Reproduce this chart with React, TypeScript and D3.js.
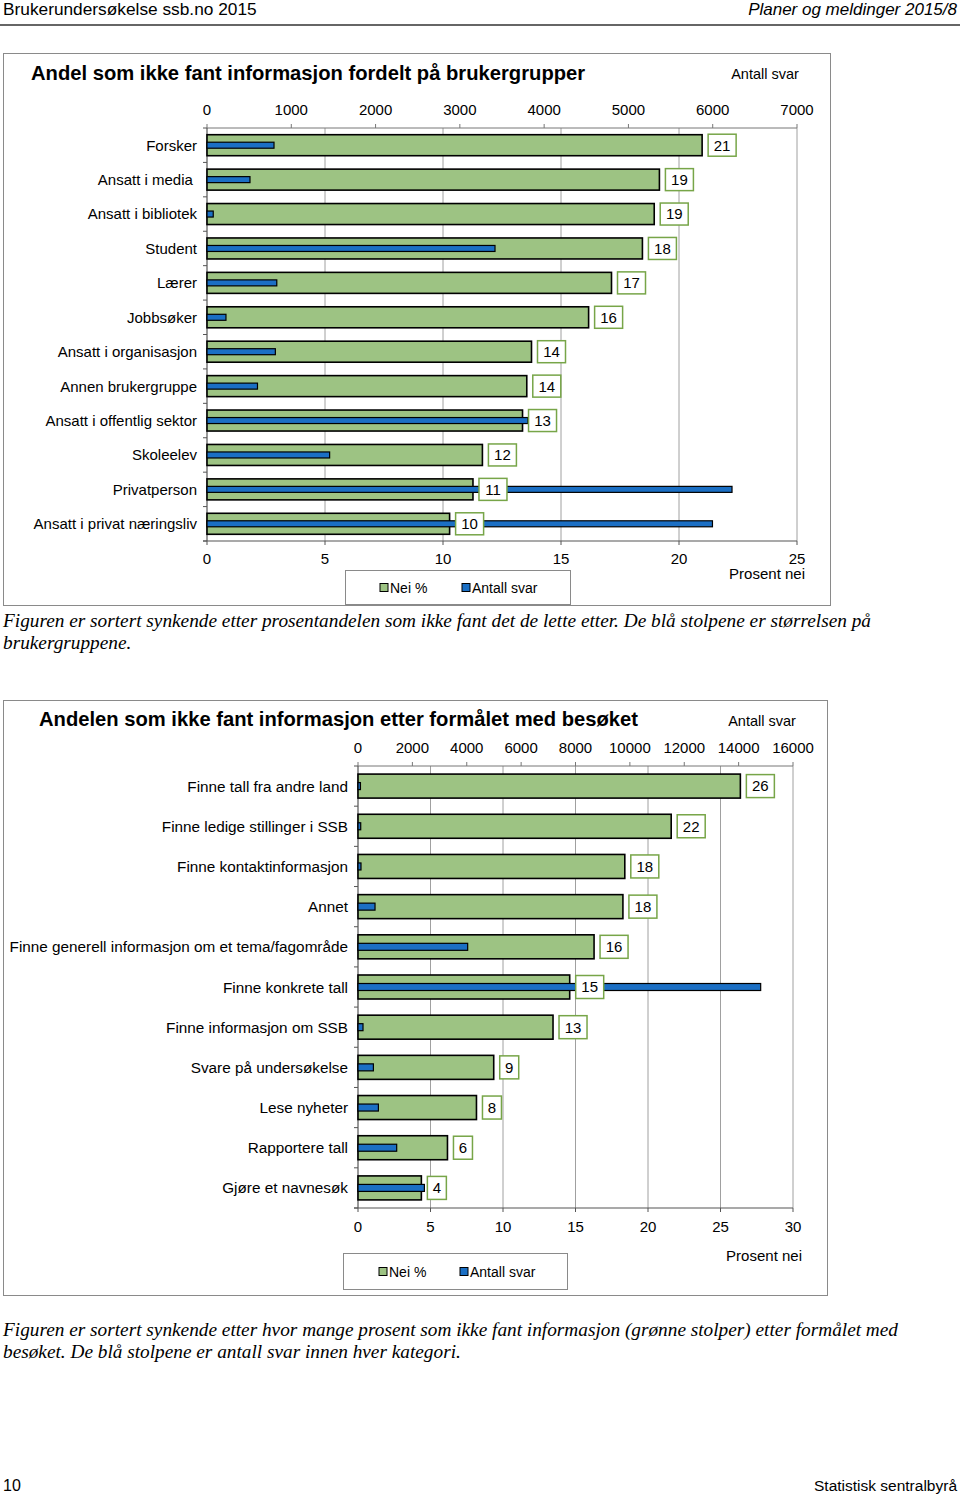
import React from "react";
import * as d3 from "d3";

// ---------- DATA ----------
const groups1 = [
  "Forsker",
  "Ansatt i media\u00A0",
  "Ansatt i bibliotek",
  "Student",
  "Lærer",
  "Jobbsøker",
  "Ansatt i organisasjon",
  "Annen brukergruppe",
  "Ansatt i offentlig sektor",
  "Skoleelev",
  "Privatperson",
  "Ansatt i privat næringsliv",
];
const neiPct1 = [20.98, 19.17, 18.95, 18.45, 17.14, 16.17, 13.75, 13.55, 13.37, 11.67, 11.27, 10.28];
const antall1 = [795, 510, 74, 3417, 828, 225, 811, 599, 3807, 1455, 6229, 5997];
const pctTicks1 = [0, 5, 10, 15, 20, 25];
const countTicks1 = [0, 1000, 2000, 3000, 4000, 5000, 6000, 7000];

const groups2 = [
  "Finne tall fra andre land",
  "Finne ledige stillinger i SSB",
  "Finne kontaktinformasjon",
  "Annet",
  "Finne generell informasjon om et tema/fagområde",
  "Finne konkrete tall",
  "Finne informasjon om SSB",
  "Svare på undersøkelse",
  "Lese nyheter",
  "Rapportere tall",
  "Gjøre et navnesøk",
];
const neiPct2 = [26.37, 21.6, 18.4, 18.27, 16.28, 14.6, 13.45, 9.36, 8.17, 6.17, 4.37];
const antall2 = [90, 100, 110, 626, 4034, 14811, 184, 566, 750, 1423, 2442];
const pctTicks2 = [0, 5, 10, 15, 20, 25, 30];
const countTicks2 = [0, 2000, 4000, 6000, 8000, 10000, 12000, 14000, 16000];

const title1 = "Andel som ikke fant informasjon fordelt på brukergrupper";
const title2 = "Andelen som ikke fant informasjon etter formålet med besøket";
const caption1 = [
  "Figuren er sortert synkende etter prosentandelen som ikke fant det de lette etter. De blå stolpene er størrelsen på",
  "brukergruppene.",
];
const caption2 = [
  "Figuren er sortert synkende etter hvor mange prosent som ikke fant informasjon (grønne stolper) etter formålet med",
  "besøket. De blå stolpene er antall svar innen hver kategori.",
];

// ---------- STYLE ----------
const GREEN = "#9dc383";
const BLUE = "#1b6fc4";
const LABEL_BORDER = "#77a548";
const GRID = "#a0a0a0";
const FRAME = "#8a8a8a";
const SANS = "'Liberation Sans', Arial, Helvetica, sans-serif";
const SERIF = "'Liberation Serif', 'Times New Roman', serif";

type ChartProps = {
  cats: string[];
  pct: number[];
  counts: number[];
  pctTicks: number[];
  countTicks: number[];
  title: string;
  titleFont: number;
  frame: { x: number; y: number; w: number; h: number };
  plot: { l: number; r: number; t: number; b: number };
  titlePos: { x: number; y: number };
  antallPos: { x: number; y: number };
  topTickY: number;
  bottomTickY: number;
  prosentPos: { x: number; y: number };
  legend: { x: number; y: number; w: number; h: number; g: number; b: number };
  catFont: number;
  catX: number;
  barH: number;
  blueH: number;
  boxH: number;
};

function Chart(p: ChartProps) {
  const xPct = d3
    .scaleLinear()
    .domain([p.pctTicks[0], p.pctTicks[p.pctTicks.length - 1]])
    .range([p.plot.l, p.plot.r]);
  const xCnt = d3
    .scaleLinear()
    .domain([p.countTicks[0], p.countTicks[p.countTicks.length - 1]])
    .range([p.plot.l, p.plot.r]);
  const y = d3.scaleBand<string>().domain(p.cats).range([p.plot.t, p.plot.b]).padding(0);
  const bw = y.bandwidth();
  const boundaries = d3.range(p.cats.length + 1).map((i) => p.plot.t + i * bw);

  return (
    <g>
      <rect x={p.frame.x} y={p.frame.y} width={p.frame.w} height={p.frame.h} fill="#fff" stroke={FRAME} strokeWidth={1} />
      <text x={p.titlePos.x} y={p.titlePos.y} fontFamily={SANS} fontSize={p.titleFont} fontWeight="bold" fill="#000">
        {p.title}
      </text>
      <text x={p.antallPos.x} y={p.antallPos.y} fontFamily={SANS} fontSize={14.5} textAnchor="middle" fill="#000">
        Antall svar
      </text>
      {/* gridlines */}
      {p.pctTicks.slice(1).map((t) => (
        <line key={"g" + t} x1={xPct(t)} x2={xPct(t)} y1={p.plot.t} y2={p.plot.b} stroke={GRID} strokeWidth={1} />
      ))}
      {/* top axis */}
      <line x1={p.plot.l} x2={p.plot.r} y1={p.plot.t} y2={p.plot.t} stroke="#777" strokeWidth={1} />
      {p.countTicks.map((t) => (
        <g key={"ct" + t}>
          <line x1={xCnt(t)} x2={xCnt(t)} y1={p.plot.t - 4} y2={p.plot.t} stroke="#777" />
          <text x={xCnt(t)} y={p.topTickY} fontFamily={SANS} fontSize={15} textAnchor="middle" fill="#000">
            {t}
          </text>
        </g>
      ))}
      {/* bottom axis */}
      <line x1={p.plot.l - 4} x2={p.plot.r} y1={p.plot.b} y2={p.plot.b} stroke="#555" strokeWidth={1.2} />
      {p.pctTicks.map((t) => (
        <g key={"pt" + t}>
          <line x1={xPct(t)} x2={xPct(t)} y1={p.plot.b} y2={p.plot.b + 4} stroke="#555" />
          <text x={xPct(t)} y={p.bottomTickY} fontFamily={SANS} fontSize={15} textAnchor="middle" fill="#000">
            {t}
          </text>
        </g>
      ))}
      <text x={p.prosentPos.x} y={p.prosentPos.y} fontFamily={SANS} fontSize={15} textAnchor="end" fill="#000">
        Prosent nei
      </text>
      {/* left axis */}
      <line x1={p.plot.l} x2={p.plot.l} y1={p.plot.t} y2={p.plot.b} stroke="#555" strokeWidth={1.2} />
      {boundaries.map((b, i) => (
        <line key={"lt" + i} x1={p.plot.l - 4} x2={p.plot.l} y1={b} y2={b} stroke="#555" />
      ))}
      {/* category labels */}
      {p.cats.map((c) => (
        <text
          key={"c" + c}
          x={p.catX}
          y={(y(c) as number) + bw / 2}
          dy="0.36em"
          fontFamily={SANS}
          fontSize={p.catFont}
          textAnchor="end"
          fill="#000"
        >
          {c}
        </text>
      ))}
      {/* green bars */}
      {p.cats.map((c, i) => (
        <rect
          key={"gb" + i}
          x={xPct(0)}
          y={(y(c) as number) + (bw - p.barH) / 2}
          width={xPct(p.pct[i]) - xPct(0)}
          height={p.barH}
          fill={GREEN}
          stroke="#000"
          strokeWidth={1.6}
        />
      ))}
      {/* blue bars */}
      {p.cats.map((c, i) => (
        <rect
          key={"bb" + i}
          x={xCnt(0)}
          y={(y(c) as number) + (bw - p.blueH) / 2}
          width={Math.max(xCnt(p.counts[i]) - xCnt(0), 1.5)}
          height={p.blueH}
          fill={BLUE}
          stroke="#000"
          strokeWidth={1.2}
        />
      ))}
      {/* value label boxes */}
      {p.cats.map((c, i) => {
        const txt = String(Math.round(p.pct[i]));
        const w = 10 + 9 * txt.length;
        const bx = xPct(p.pct[i]) + 6;
        const cy = (y(c) as number) + bw / 2;
        return (
          <g key={"lb" + i}>
            <rect x={bx} y={cy - p.boxH / 2} width={w} height={p.boxH} fill="#fff" stroke={LABEL_BORDER} strokeWidth={1.5} />
            <text x={bx + w / 2} y={cy} dy="0.36em" fontFamily={SANS} fontSize={15} textAnchor="middle" fill="#000">
              {txt}
            </text>
          </g>
        );
      })}
      {/* legend */}
      <rect x={p.legend.x} y={p.legend.y} width={p.legend.w} height={p.legend.h} fill="#fff" stroke={FRAME} strokeWidth={1} />
      <rect x={p.legend.g} y={p.legend.y + p.legend.h / 2 - 4} width={8} height={8} fill={GREEN} stroke="#000" strokeWidth={1} />
      <text x={p.legend.g + 10} y={p.legend.y + p.legend.h / 2} dy="0.36em" fontFamily={SANS} fontSize={14} fill="#000">
        Nei %
      </text>
      <rect x={p.legend.b} y={p.legend.y + p.legend.h / 2 - 4} width={8} height={8} fill={BLUE} stroke="#000" strokeWidth={1} />
      <text x={p.legend.b + 10} y={p.legend.y + p.legend.h / 2} dy="0.36em" fontFamily={SANS} fontSize={14} fill="#000">
        Antall svar
      </text>
    </g>
  );
}

export default function App() {
  return (
    <svg width={960} height={1495} style={{ position: "absolute", left: 0, top: 0, background: "#fff" }}>
      <rect x={0} y={0} width={960} height={1495} fill="#fff" />
      {/* header */}
      <text x={3} y={15} fontFamily={SANS} fontSize={17.3} fill="#000">
        Brukerundersøkelse ssb.no 2015
      </text>
      <text x={957} y={15} fontFamily={SANS} fontSize={17} fontStyle="italic" textAnchor="end" fill="#000">
        Planer og meldinger 2015/8
      </text>
      <line x1={0} x2={960} y1={25} y2={25} stroke="#333" strokeWidth={1.5} />

      <Chart
        cats={groups1}
        pct={neiPct1}
        counts={antall1}
        pctTicks={pctTicks1}
        countTicks={countTicks1}
        title={title1}
        titleFont={20.2}
        frame={{ x: 3.5, y: 53.5, w: 827, h: 552 }}
        plot={{ l: 207, r: 797, t: 128, b: 541 }}
        titlePos={{ x: 31, y: 80 }}
        antallPos={{ x: 765, y: 79 }}
        topTickY={115}
        bottomTickY={564}
        prosentPos={{ x: 805, y: 579 }}
        legend={{ x: 345.5, y: 570.5, w: 225, h: 34, g: 380, b: 462 }}
        catFont={15}
        catX={197}
        barH={21}
        blueH={6}
        boxH={22}
      />
      {caption1.map((l, i) => (
        <text key={"c1" + i} x={3} y={627 + i * 22} fontFamily={SERIF} fontStyle="italic" fontSize={19.3} fill="#000">
          {l}
        </text>
      ))}

      <Chart
        cats={groups2}
        pct={neiPct2}
        counts={antall2}
        pctTicks={pctTicks2}
        countTicks={countTicks2}
        title={title2}
        titleFont={20.2}
        frame={{ x: 3.5, y: 700.5, w: 824, h: 595 }}
        plot={{ l: 358, r: 793, t: 766, b: 1208 }}
        titlePos={{ x: 39, y: 726 }}
        antallPos={{ x: 762, y: 726 }}
        topTickY={753}
        bottomTickY={1232}
        prosentPos={{ x: 802, y: 1261 }}
        legend={{ x: 343.5, y: 1253.5, w: 224, h: 36, g: 379, b: 460 }}
        catFont={15.3}
        catX={348}
        barH={24}
        blueH={7}
        boxH={23}
      />
      {caption2.map((l, i) => (
        <text key={"c2" + i} x={3} y={1336 + i * 22} fontFamily={SERIF} fontStyle="italic" fontSize={19.3} fill="#000">
          {l}
        </text>
      ))}

      {/* footer */}
      <text x={3} y={1491} fontFamily={SANS} fontSize={16} fill="#000">
        10
      </text>
      <text x={957} y={1491} fontFamily={SANS} fontSize={15.5} textAnchor="end" fill="#000">
        Statistisk sentralbyrå
      </text>
    </svg>
  );
}
